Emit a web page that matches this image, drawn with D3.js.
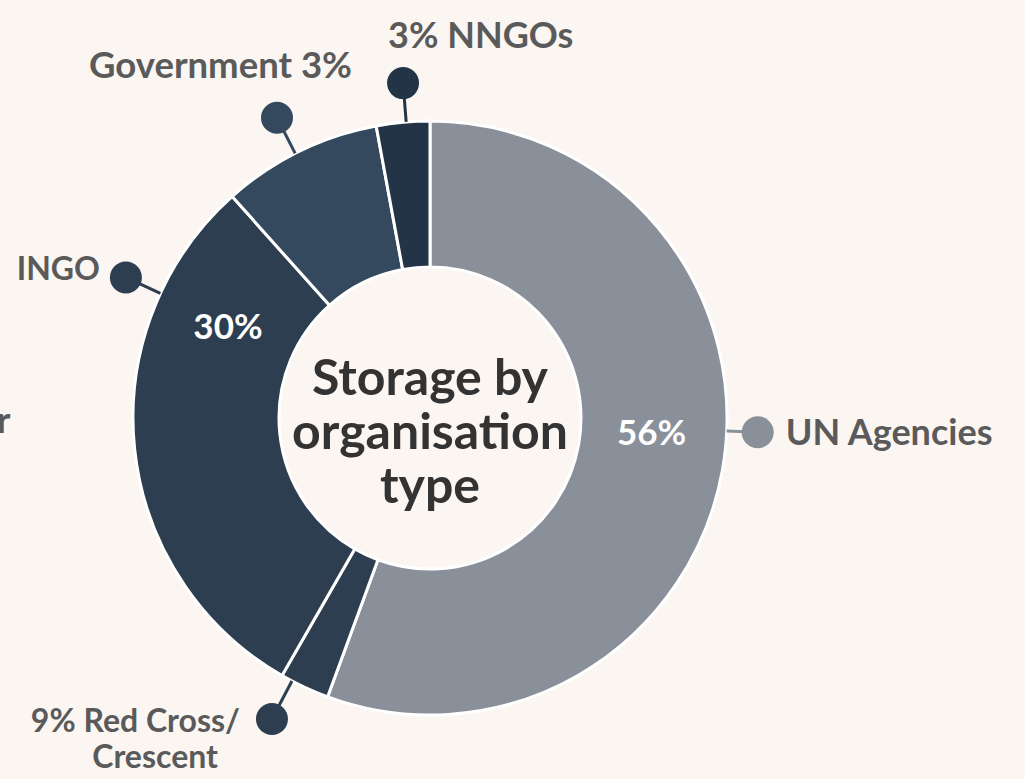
<!DOCTYPE html>
<html>
<head>
<meta charset="utf-8">
<script src="https://cdn.jsdelivr.net/npm/d3@7"></script>
<style>
  html, body { margin: 0; padding: 0; background: #fbf6f2; }
  svg { display: block; }
  text { font-family: Lato, "Open Sans", sans-serif; font-weight: 700; }
</style>
</head>
<body>
<svg id="chart" width="1025" height="779"></svg>
<script>
// ---- data ----
const categories = ["UN Agencies", "Red Cross/Crescent", "INGO", "Government", "NNGOs"];
const values = [55.6, 2.7, 30.1, 8.7, 2.9];
const labelLines = [
  ["UN Agencies"],
  ["9% Red Cross/", "Crescent"],
  ["INGO"],
  ["Government 3%"],
  ["3% NNGOs"]
];
const innerPct = ["56%", "", "30%", "", ""];
const title = ["Storage by", "organisation", "type"];
const strayText = "r";

// ---- layout / style ----
const W = 1025, H = 779;
const cx = 430, cy = 418;
const rOuter = 297, rInner = 151, rPct = 222;
const colors = ["#8a9099", "#2c3e50", "#2c3e50", "#34495e", "#243447"];
// connector dot angle (degrees clockwise from top) and distance from centre
const labelAngle = [92.5, 207.7, 294.8, 333, 355.4];
const labelRadius = [328, 340, 335, 337, 336];
const pctAngle = [93.6, 0, 294.5, 0, 0];
// text offsets relative to dot centre: [dx, dy, anchor, fontSize]
const textOffset = [
  [28, 13, "start", 36],
  [-32, 13, "end", 32],
  [-26, 3, "end", 32],
  [75, -40, "end", 36.5],
  [-15, -35, "start", 36]
];

const svg = d3.select("#chart");
svg.append("rect").attr("width", W).attr("height", H).attr("fill", "#fbf6f2");

const pie = d3.pie().sort(null).value(d => d).startAngle(0).endAngle(2 * Math.PI);
const arcs = pie(values);
const arc = d3.arc().innerRadius(rInner).outerRadius(rOuter);

const g = svg.append("g").attr("transform", `translate(${cx},${cy})`);

g.selectAll("path.slice").data(arcs).join("path")
  .attr("class", "slice")
  .attr("d", arc)
  .attr("fill", (d, i) => colors[i])
  .attr("stroke", "#ffffff")
  .attr("stroke-width", 3)
  .attr("stroke-linejoin", "round");

const toXY = (angDeg, r) => {
  const a = angDeg * Math.PI / 180;
  return [Math.sin(a) * r, -Math.cos(a) * r];
};

// connectors and dots
categories.forEach((c, i) => {
  const [x0, y0] = toXY(labelAngle[i], rOuter);
  const [x1, y1] = toXY(labelAngle[i], labelRadius[i]);
  g.append("line")
    .attr("x1", x0).attr("y1", y0).attr("x2", x1).attr("y2", y1)
    .attr("stroke", colors[i]).attr("stroke-width", 3);
  g.append("circle")
    .attr("cx", x1).attr("cy", y1).attr("r", 16)
    .attr("fill", colors[i]);
  const [dx, dy, anchor, fs] = textOffset[i];
  const t = g.append("text")
    .attr("x", x1 + dx).attr("y", y1 + dy)
    .attr("text-anchor", anchor)
    .attr("font-size", fs)
    .attr("fill", "#5a5a5a");
  labelLines[i].forEach((ln, k) => {
    t.append("tspan").attr("x", x1 + dx - (k > 0 ? 22 : 0)).attr("dy", k === 0 ? 0 : 36).text(ln);
  });
  if (innerPct[i]) {
    const [px, py] = toXY(pctAngle[i], rPct);
    g.append("text")
      .attr("x", px).attr("y", py + 13)
      .attr("text-anchor", "middle")
      .attr("font-size", 35)
      .attr("fill", "#ffffff")
      .text(innerPct[i]);
  }
});

// centre title
const tt = g.append("text").attr("text-anchor", "middle").attr("font-size", 50).attr("fill", "#333333");
title.forEach((ln, k) => {
  tt.append("tspan").attr("x", 0).attr("y", -23 + k * 54).text(ln);
});

// cut-off text at the left edge (part of a neighbouring label)
svg.append("text").attr("x", -3).attr("y", 433).attr("font-size", 36).attr("fill", "#5a5a5a").text(strayText);
</script>
</body>
</html>
